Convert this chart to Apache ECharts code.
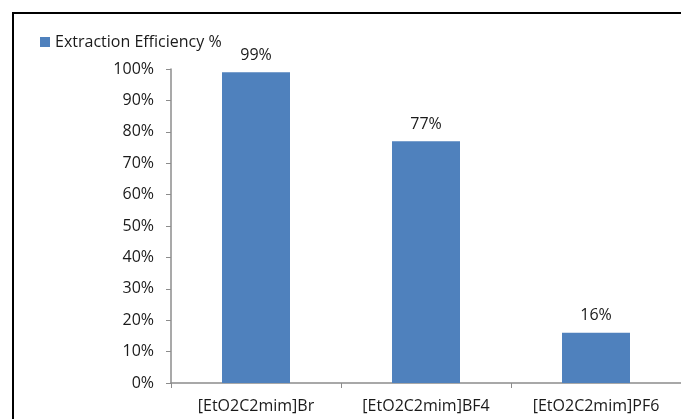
<!DOCTYPE html>
<html><head><meta charset="utf-8">
<script src="https://cdn.jsdelivr.net/npm/echarts@6/dist/echarts.min.js"></script>
<style>
html,body{margin:0;padding:0;background:#fff;overflow:hidden;}
#frame{position:absolute;left:12px;top:12px;width:720px;height:440px;border:2px solid #000;box-sizing:border-box;}
#c{position:absolute;left:0;top:0;width:681px;height:419px;}
</style></head>
<body>
<div id="frame"></div>
<div id="c"></div>
<script>
const categories = ['[EtO2C2mim]Br', '[EtO2C2mim]BF4', '[EtO2C2mim]PF6'];
const efficiency = [99, 77, 16];
const seriesName = 'Extraction Efficiency %';
const yTicks = [0, 10, 20, 30, 40, 50, 60, 70, 80, 90, 100];

const chart = echarts.init(document.getElementById('c'));
const font = 'Open Sans';
const txt = '#1a1a1a';
chart.setOption({
  animation: false,
  textStyle: { fontFamily: font },
  legend: {
    left: 35, top: 29, itemWidth: 10, itemHeight: 10,
    icon: 'rect',
    textStyle: { fontSize: 16, color: txt, fontFamily: font },
    data: [seriesName]
  },
  grid: { left: 171, right: -2, top: 69, bottom: 36, containLabel: false },
  xAxis: {
    type: 'category', data: categories,
    axisLine: { lineStyle: { color: '#8c8c8c', width: 1.5 } },
    axisTick: { show: true, length: 5, lineStyle: { color: '#8c8c8c' } },
    axisLabel: { fontSize: 16, color: txt, margin: 15, fontFamily: font }
  },
  yAxis: {
    type: 'value', min: yTicks[0], max: yTicks[yTicks.length - 1], interval: 10,
    splitLine: { show: false },
    axisLine: { show: true, lineStyle: { color: '#8c8c8c', width: 1.5 } },
    axisTick: { show: true, length: 5, lineStyle: { color: '#8c8c8c' } },
    axisLabel: { fontSize: 16, color: txt, margin: 17, formatter: '{value}%', fontFamily: font }
  },
  series: [{
    name: seriesName, type: 'bar', data: efficiency,
    barCategoryGap: '60%',
    itemStyle: { color: '#4F81BD' },
    label: { show: true, position: 'top', distance: 9, formatter: '{c}%', fontSize: 16, color: txt, fontFamily: font }
  }]
});
</script>
</body></html>
